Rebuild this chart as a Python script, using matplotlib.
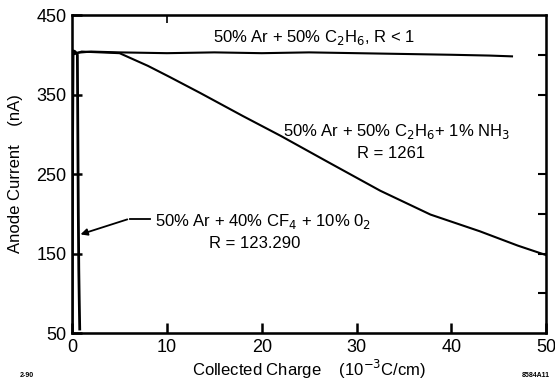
import matplotlib
matplotlib.use("Agg")
from matplotlib import pyplot as plt

plt.rcParams['font.family'] = ['Liberation Sans', 'DejaVu Sans']

# 50% Ar + 50% C2H6, R < 1
flat_x = [0.0, 2, 5, 10, 15, 20, 25, 30, 35, 40, 44, 46.4]
flat_y = [402, 404, 403, 402, 403, 402, 403, 402, 401, 400, 399, 398]

# 50% Ar + 50% C2H6 + 1% NH3
nh3_x = [0.0, 1, 3, 5, 8, 10.3, 13.5, 18, 22, 27, 32.5, 37.8, 43, 47, 50]
nh3_y = [400, 404, 403, 402, 386, 372, 352, 323, 298, 265, 229, 199, 178, 160, 148]

# 50% Ar + 40% CF4 + 10% O2
cf4_x = [0.0, 0.05, 0.1, 0.3, 0.55, 0.6, 0.65, 0.7, 0.75, 0.8]
cf4_y = [50, 300, 405, 404, 400, 300, 200, 130, 90, 55]

x_ticks = [0, 10, 20, 30, 40, 50]
y_ticks = [50, 150, 250, 350, 450]
right_ticks = [100, 150, 200, 250, 350, 400]

fig = plt.figure(figsize=(5.55, 3.85), dpi=100)
ax = fig.add_axes([0.13, 0.135, 0.854, 0.826])

ax.plot(flat_x, flat_y, color="black", lw=1.5)
ax.plot(nh3_x, nh3_y, color="black", lw=1.5)
ax.plot(cf4_x, cf4_y, color="black", lw=2.0)

ax.set_xlim(0, 50)
ax.set_ylim(50, 450)
ax.set_xticks(x_ticks)
ax.set_yticks(y_ticks)
ax.tick_params(direction="in", length=7, width=1.8, labelsize=13, pad=4)
for s in ax.spines.values():
    s.set_linewidth(1.8)

# inward ticks on the right and top frame, no labels
ax2 = ax.twinx()
ax2.set_ylim(50, 450)
ax2.set_yticks(right_ticks)
ax2.tick_params(direction="in", length=6, width=1.5, labelright=False)
ax3 = ax.twiny()
ax3.set_xlim(0, 50)
ax3.set_xticks([10])
ax3.tick_params(direction="in", length=6, width=1.2, labeltop=False)

ax.set_ylabel("Anode Current    (nA)", fontsize=12, labelpad=10)
ax.set_xlabel("Collected Charge    (10$^{-3}$C/cm)", fontsize=12, labelpad=2)

ax.text(14.9, 422, "50% Ar + 50% C$_2$H$_6$, R < 1", fontsize=12, va="center")
ax.text(22.2, 303, "50% Ar + 50% C$_2$H$_6$+ 1% NH$_3$", fontsize=12, va="center")
ax.text(33.6, 276, "R = 1261", fontsize=12, va="center", ha="center")
ax.text(8.7, 190, "50% Ar + 40% CF$_4$ + 10% 0$_2$", fontsize=12, va="center")
ax.text(19.3, 163, "R = 123.290", fontsize=12, va="center", ha="center")
ax.annotate("", xy=(0.6, 173), xytext=(6.1, 194),
            arrowprops=dict(arrowstyle="-|>", color="black", lw=1.3))
ax.plot([6.1, 8.2], [194, 194], color="black", lw=1.3)

fig.text(0.036, 0.02, "2-90", fontsize=5, weight="bold")
fig.text(0.965, 0.02, "8584A11", fontsize=5, weight="bold", ha="center")

fig.savefig("out.png", dpi=100)
